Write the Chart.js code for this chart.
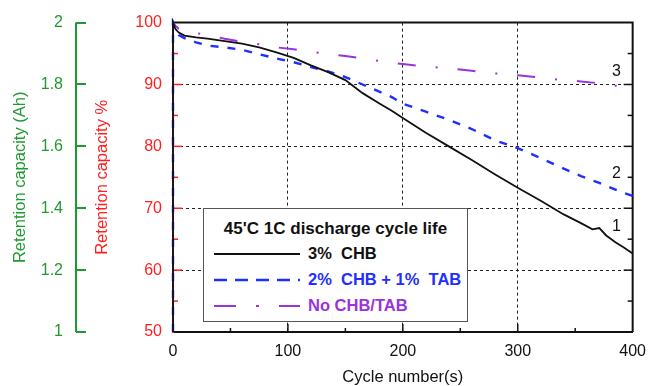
<!DOCTYPE html>
<html>
<head>
<meta charset="utf-8">
<script src="https://cdn.jsdelivr.net/npm/chart.js@4.4.1/dist/chart.umd.min.js"></script>
<style>
    html, body { margin: 0; padding: 0; background: #fff; }
    #wrap { position: relative; width: 656px; height: 386px; }
    #legend {
        position: absolute; left: 203px; top: 208px; width: 263px; height: 112px;
        border: 1.5px solid #555; background: #fff;
        font-family: "Liberation Sans", Arial, sans-serif; font-weight: bold; font-size: 16.5px;
    }
    #legend .title { position: absolute; left: 0; right: 0; top: 10px; text-align: center; color: #111; font-size: 17px; }
    #legend .row { position: absolute; left: 10px; height: 19px; }
    #legend svg { position: absolute; left: 0; top: 5px; }
    #legend .row span { position: absolute; left: 94px; top: 0; white-space: pre; }
</style>
</head>
<body>
<div id="wrap">
    <canvas id="chart" width="656" height="386"></canvas>
    <div id="legend">
        <div class="title">45'C 1C discharge cycle life</div>
        <div class="row" style="top:35px"><svg width="88" height="10"><line x1="0" y1="5" x2="86" y2="5" stroke="#111" stroke-width="2"/></svg><span style="color:#111">3%  CHB</span></div>
        <div class="row" style="top:61px"><svg width="88" height="10"><line x1="0" y1="5" x2="86" y2="5" stroke="#1f2fff" stroke-width="2.5" stroke-dasharray="13 8"/></svg><span style="color:#1f2fff">2%  CHB + 1%  TAB</span></div>
        <div class="row" style="top:87px"><svg width="88" height="10"><line x1="0" y1="5" x2="86" y2="5" stroke="#9933dd" stroke-width="2" stroke-dasharray="22 20 3 20 22"/></svg><span style="color:#9933dd">No CHB/TAB</span></div>
    </div>
</div>
<script>
const cycles = [0, 0, 2, 5, 10, 20, 30, 45, 60, 75, 90, 105, 120, 135, 150, 165, 180, 190, 200, 220, 240, 260, 280, 300, 320, 340, 355, 365, 371, 377, 385, 392, 400];
const chb3 = [50, 100, 99.0, 98.4, 97.9, 97.6, 97.4, 97.0, 96.6, 96.0, 95.2, 94.3, 93.1, 92.0, 90.7, 88.6, 86.9, 85.8, 84.6, 82.2, 80.0, 77.8, 75.5, 73.3, 71.2, 69.0, 67.6, 66.6, 66.8, 65.6, 64.5, 63.7, 62.7];
const chb2tab1 = [50, 100, 98.8, 98.0, 97.5, 96.8, 96.3, 96.0, 95.6, 94.9, 94.2, 93.6, 92.8, 92.1, 91.2, 90.0, 88.8, 88.0, 86.9, 85.6, 84.3, 82.8, 81.0, 79.7, 78.1, 76.4, 75.2, 74.5, 74.1, 73.6, 73.0, 72.5, 72.0];
const noAdditive = [50, 100, 99.5, 99.0, 98.6, 98.3, 98.0, 97.4, 96.9, 96.5, 96.0, 95.7, 95.3, 94.9, 94.6, 94.2, 93.8, 93.5, 93.3, 92.9, 92.6, 92.2, 91.8, 91.5, 91.1, 90.7, 90.5, 90.3, 90.2, 90.0, 89.8, 89.7, 89.6];

const seriesNames = ['3%  CHB', '2%  CHB + 1%  TAB', 'No CHB/TAB'];
const curveTags = ['1', '2', '3'];
const curveTagCycle = [386, 386, 386];
const curveTagValue = [67.1, 75.6, 92.1];

const RED = '#ff2020';
const GREEN = '#1f9a30';
const FONT = '"Liberation Sans", Arial, sans-serif';

const toPoints = (values) => values.map((v, i) => ({ x: cycles[i], y: v }));

// frame on top/right, inward ticks, and the offset green axis line
const frameTicks = {
    id: 'frameTicks',
    beforeDatasetsDraw(chart) {
        const { ctx, chartArea: a, scales } = chart;
        const x = scales.x;
        const y = scales.y;
        ctx.save();
        ctx.lineWidth = 2;
        ctx.strokeStyle = '#111';
        ctx.beginPath();
        ctx.moveTo(a.left, a.top);
        ctx.lineTo(a.right, a.top);
        ctx.lineTo(a.right, a.bottom);
        ctx.stroke();

        ctx.lineWidth = 1.5;
        for (let v = 55; v < 100; v += 5) {
            const py = y.getPixelForValue(v);
            const len = v % 10 === 0 ? 9 : 5;
            ctx.strokeStyle = RED;
            ctx.beginPath();
            ctx.moveTo(a.left, py);
            ctx.lineTo(a.left + len, py);
            ctx.stroke();
            ctx.strokeStyle = '#111';
            ctx.beginPath();
            ctx.moveTo(a.right, py);
            ctx.lineTo(a.right - len, py);
            ctx.stroke();
        }
        ctx.strokeStyle = '#111';
        for (let c = 50; c < 400; c += 50) {
            const px = x.getPixelForValue(c);
            const len = c % 100 === 0 ? 8 : 4;
            ctx.beginPath();
            ctx.moveTo(px, a.bottom);
            ctx.lineTo(px, a.bottom - len);
            ctx.stroke();
        }

        const g = scales.yAh;
        const gx = g.right - g.options.grid.tickLength;
        ctx.strokeStyle = GREEN;
        ctx.lineWidth = 2;
        ctx.beginPath();
        ctx.moveTo(gx, g.getPixelForValue(1));
        ctx.lineTo(gx, g.getPixelForValue(2));
        ctx.stroke();
        ctx.restore();
    },
    afterDraw(chart) {
        const { ctx, scales } = chart;
        ctx.save();
        ctx.fillStyle = '#111';
        ctx.font = '16px ' + FONT;
        ctx.textAlign = 'center';
        ctx.textBaseline = 'middle';
        curveTags.forEach((t, i) => {
            ctx.fillText(t, scales.x.getPixelForValue(curveTagCycle[i]), scales.y.getPixelForValue(curveTagValue[i]));
        });
        ctx.restore();
    },
};

const hideEnds = (ctx) => {
    const s = ctx.scale;
    const v = ctx.tick ? ctx.tick.value : null;
    return v === s.min || v === s.max ? 'rgba(0,0,0,0)' : '#222';
};

new Chart(document.getElementById('chart'), {
    type: 'line',
    data: {
        datasets: [
            { label: seriesNames[0], data: toPoints(chb3), borderColor: '#111', borderWidth: 1.8 },
            { label: seriesNames[1], data: toPoints(chb2tab1), borderColor: '#1f2fff', borderWidth: 2.4, borderDash: [8, 9] },
            { label: seriesNames[2], data: toPoints(noAdditive), borderColor: '#9933dd', borderWidth: 2, borderDash: [18, 20, 2, 20] },
        ],
    },
    options: {
        responsive: false,
        animation: false,
        clip: 4,
        layout: { padding: { top: 20, right: 11, left: 0, bottom: 0 } },
        elements: { point: { radius: 0 }, line: { tension: 0 } },
        plugins: { legend: { display: false }, tooltip: { enabled: false } },
        scales: {
            x: {
                type: 'linear',
                min: 0, max: 400,
                afterFit: (s) => { s.height = 54; },
                border: { color: '#111', width: 2, dash: [3, 3] },
                grid: { color: hideEnds, drawTicks: false, lineWidth: 1 },
                ticks: { stepSize: 100, padding: 10, color: '#111', font: { family: FONT, size: 16 } },
                title: { display: true, text: 'Cycle number(s)', color: '#111', padding: 0, font: { family: FONT, size: 16.5, lineHeight: 1 } },
            },
            y: {
                position: 'left',
                weight: 0,
                min: 50, max: 100,
                afterFit: (s) => { s.width = 87; },
                border: { color: RED, width: 2, dash: [3, 3] },
                grid: { color: hideEnds, drawTicks: false, lineWidth: 1 },
                ticks: { stepSize: 10, padding: 11, color: RED, font: { family: FONT, size: 16 } },
                title: { display: true, text: 'Retention capacity %', color: RED, padding: { top: 7, bottom: 0 }, font: { family: FONT, size: 16.5 } },
            },
            yAh: {
                position: 'left',
                weight: 1,
                min: 1, max: 2,
                afterFit: (s) => { s.width = 86; },
                border: { display: false },
                grid: { drawOnChartArea: false, drawTicks: true, tickLength: 10, color: GREEN, lineWidth: 2 },
                ticks: {
                    stepSize: 0.2, padding: 13, color: GREEN, font: { family: FONT, size: 16 },
                    callback: (v) => String(Number(v.toFixed(1))),
                },
                title: { display: true, text: 'Retention capacity (Ah)', color: GREEN, padding: { top: 11, bottom: 0 }, font: { family: FONT, size: 16.5 } },
            },
        },
    },
    plugins: [frameTicks],
});
</script>
</body>
</html>
